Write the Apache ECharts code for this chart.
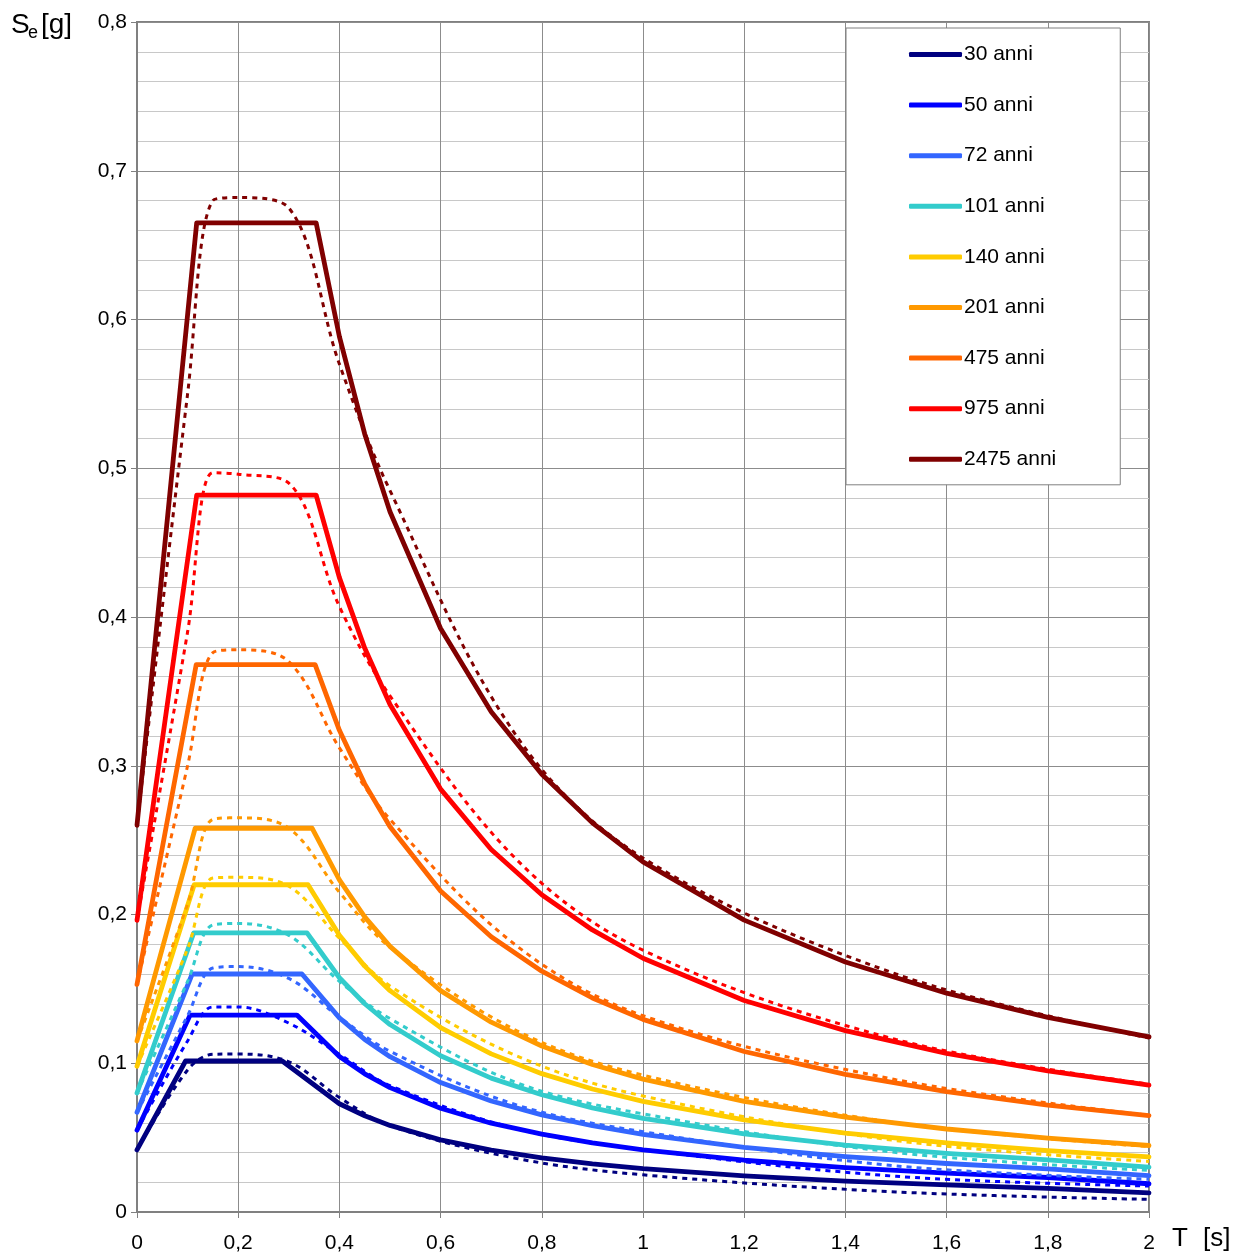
<!DOCTYPE html>
<html>
<head>
<meta charset="utf-8">
<script src="https://cdn.jsdelivr.net/npm/echarts@6/dist/echarts.min.js"></script>
<style>
  html, body { margin: 0; padding: 0; background: #fff; }
  #chart { width: 1234px; height: 1255px; }
</style>
</head>
<body>
<div id="chart"></div>
<script>
// periodi T [s] dei punti degli spettri a pericolosità uniforme (tratteggiati)
const tPunti = [0, 0.1, 0.15, 0.2, 0.3, 0.4, 0.5, 0.75, 1.0, 1.5, 2.0];
// periodi T [s] del ramo discendente degli spettri di progetto (continui)
const tCoda = [0.4, 0.45, 0.5, 0.6, 0.7, 0.8, 0.9, 1.0, 1.2, 1.4, 1.6, 1.8, 2.0];

const nomi = ['30 anni', '50 anni', '72 anni', '101 anni', '140 anni', '201 anni', '475 anni', '975 anni', '2475 anni'];
const colori = ['#000080', '#0000ff', '#3366ff', '#33cccc', '#ffcc00', '#ff9900', '#ff6600', '#ff0000', '#800000'];

// tratto iniziale degli spettri di progetto: [T, Se] in T=0, TB, TC
const inizio30 = [[0, 0.0417], [0.096, 0.1015], [0.287, 0.1015]];
const inizio50 = [[0, 0.055], [0.105, 0.1324], [0.316, 0.1324]];
const inizio72 = [[0, 0.067], [0.109, 0.16], [0.326, 0.16]];
const inizio101 = [[0, 0.080], [0.112, 0.1876], [0.336, 0.1876]];
const inizio140 = [[0, 0.098], [0.113, 0.22], [0.338, 0.22]];
const inizio201 = [[0, 0.115], [0.115, 0.258], [0.346, 0.258]];
const inizio475 = [[0, 0.153], [0.117, 0.368], [0.352, 0.368]];
const inizio975 = [[0, 0.196], [0.118, 0.482], [0.354, 0.482]];
const inizio2475 = [[0, 0.26], [0.118, 0.665], [0.354, 0.665]];

// Se [g] sul ramo discendente, in corrispondenza di tCoda
const coda30 = [0.0728, 0.0647, 0.0582, 0.0485, 0.0416, 0.0364, 0.0323, 0.0291, 0.0243, 0.0208, 0.0182, 0.0159, 0.0129];
const coda50 = [0.1045, 0.0929, 0.0836, 0.0697, 0.0597, 0.0523, 0.0464, 0.0418, 0.0348, 0.0299, 0.0261, 0.0232, 0.0190];
const coda72 = [0.1305, 0.1160, 0.1044, 0.0870, 0.0746, 0.0653, 0.0580, 0.0522, 0.0435, 0.0373, 0.0326, 0.0290, 0.0244];
const coda101 = [0.1575, 0.1400, 0.1260, 0.1050, 0.0900, 0.0788, 0.0700, 0.0630, 0.0525, 0.0450, 0.0394, 0.0350, 0.0302];
const coda140 = [0.1860, 0.1653, 0.1488, 0.1240, 0.1063, 0.0930, 0.0827, 0.0744, 0.0620, 0.0531, 0.0465, 0.0413, 0.0370];
const coda201 = [0.2233, 0.1984, 0.1786, 0.1488, 0.1276, 0.1116, 0.0992, 0.0893, 0.0744, 0.0638, 0.0558, 0.0496, 0.0447];
const coda475 = [0.3238, 0.2878, 0.2590, 0.2158, 0.1850, 0.1619, 0.1439, 0.1295, 0.1079, 0.0925, 0.0809, 0.0719, 0.0648];
const coda975 = [0.4265, 0.3791, 0.3412, 0.2843, 0.2437, 0.2133, 0.1896, 0.1706, 0.1422, 0.1219, 0.1066, 0.0948, 0.0853];
const coda2475 = [0.5885, 0.5231, 0.4708, 0.3923, 0.3363, 0.2943, 0.2616, 0.2354, 0.1962, 0.1681, 0.1471, 0.1308, 0.1177];

// spettri tratteggiati, Se [g] in corrispondenza di tPunti
const punti30 = [0.0417, 0.0955, 0.106, 0.1062, 0.101, 0.077, 0.058, 0.036, 0.025, 0.0135, 0.0085];
const punti50 = [0.055, 0.115, 0.1378, 0.1378, 0.127, 0.106, 0.085, 0.056, 0.042, 0.024, 0.0175];
const punti72 = [0.067, 0.132, 0.164, 0.165, 0.157, 0.131, 0.108, 0.072, 0.054, 0.031, 0.022];
const punti101 = [0.080, 0.155, 0.193, 0.194, 0.186, 0.155, 0.130, 0.087, 0.066, 0.040, 0.028];
const punti140 = [0.098, 0.177, 0.2245, 0.225, 0.219, 0.184, 0.152, 0.105, 0.078, 0.048, 0.034];
const punti201 = [0.115, 0.207, 0.264, 0.265, 0.258, 0.215, 0.178, 0.122, 0.092, 0.060, 0.044];
const punti475 = [0.153, 0.30, 0.376, 0.378, 0.370, 0.312, 0.264, 0.179, 0.132, 0.089, 0.065];
const punti975 = [0.196, 0.39, 0.497, 0.496, 0.49, 0.407, 0.347, 0.237, 0.176, 0.116, 0.086];
const punti2475 = [0.26, 0.55, 0.68, 0.682, 0.675, 0.57, 0.485, 0.32, 0.238, 0.16, 0.117];

const inizi = [inizio30, inizio50, inizio72, inizio101, inizio140, inizio201, inizio475, inizio975, inizio2475];
const code = [coda30, coda50, coda72, coda101, coda140, coda201, coda475, coda975, coda2475];
const punti = [punti30, punti50, punti72, punti101, punti140, punti201, punti475, punti975, punti2475];

const font = '"Liberation Sans", Arial, Helvetica, sans-serif';
const virgola = v => String(+v.toFixed(2)).replace('.', ',');

const series = [];
nomi.forEach((nome, i) => {
    const dati = inizi[i].concat(tCoda.map((t, j) => [t, code[i][j]]));
    series.push({
        name: nome,
        type: 'line',
        data: dati,
        symbol: 'none',
        color: colori[i],
        lineStyle: {width: 4.8, color: colori[i], cap: 'round', join: 'round'},
        z: 3
    });
});
nomi.forEach((nome, i) => {
    series.push({
        name: nome + ' (UHS)',
        type: 'line',
        data: tPunti.map((t, j) => [t, punti[i][j]]),
        symbol: 'none',
        smooth: 0.35,
        color: colori[i],
        lineStyle: {width: 3, color: colori[i], type: [5, 5]},
        z: 4
    });
});

const chart = echarts.init(document.getElementById('chart'), null, {renderer: 'canvas'});
chart.setOption({
    animation: false,
    backgroundColor: '#fff',
    grid: {left: 137, right: 85, top: 22, bottom: 43, show: true, borderColor: '#808080', borderWidth: 2},
    xAxis: {
        type: 'value', min: 0, max: 2, interval: 0.2,
        axisLine: {show: true, lineStyle: {color: '#808080', width: 2}},
        axisTick: {show: true, length: 6, lineStyle: {color: '#808080'}},
        axisLabel: {formatter: virgola, color: '#000', fontSize: 21, fontFamily: font, margin: 21},
        splitLine: {show: true, lineStyle: {color: '#8c8c8c', width: 1}}
    },
    yAxis: {
        type: 'value', min: 0, max: 0.8, interval: 0.1,
        axisLine: {show: true, lineStyle: {color: '#808080', width: 2}},
        axisTick: {show: true, length: 6, lineStyle: {color: '#808080'}},
        axisLabel: {formatter: virgola, color: '#000', fontSize: 21, fontFamily: font, margin: 10},
        splitLine: {show: true, lineStyle: {color: '#8c8c8c', width: 1}},
        minorTick: {show: false, splitNumber: 5},
        minorSplitLine: {show: true, lineStyle: {color: '#c8c8c8', width: 1}}
    },
    legend: {
        data: nomi,
        orient: 'vertical',
        left: 846, top: 28,
        backgroundColor: '#fff',
        borderColor: '#808080', borderWidth: 1,
        padding: [16, 64, 15, 63],
        itemWidth: 53, itemHeight: 5, itemGap: 29.6,
        itemStyle: {borderWidth: 0},
        icon: 'roundRect',
        textStyle: {fontSize: 21, lineHeight: 20, color: '#000', fontFamily: font, padding: [0, 0, 0, -3]}
    },
    graphic: [
        {type: 'text', left: 11, top: 11, style: {text: 'S', font: '28px ' + font, fill: '#000'}},
        {type: 'text', left: 28, top: 24, style: {text: 'e', font: '18px ' + font, fill: '#000'}},
        {type: 'text', left: 41, top: 11, style: {text: '[g]', font: '28px ' + font, fill: '#000'}},
        {type: 'text', left: 1172, top: 1226, style: {text: 'T', font: '26px ' + font, fill: '#000'}},
        {type: 'text', left: 1203, top: 1226, style: {text: '[s]', font: '26px ' + font, fill: '#000'}}
    ],
    series: series
});
</script>
</body>
</html>
